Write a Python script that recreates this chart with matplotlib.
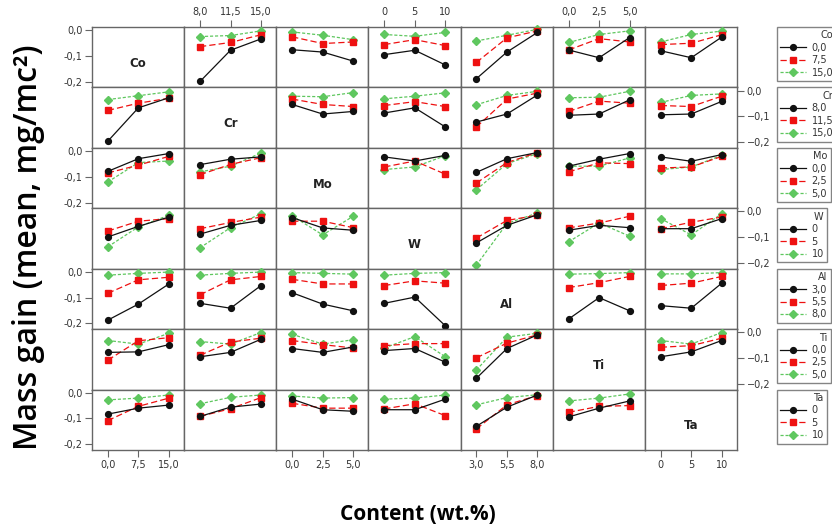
#!/usr/bin/env python3

#imports
import matplotlib
matplotlib.use("Agg")
import matplotlib.pyplot as plt
import numpy as np


#constants
factors = ["Co", "Cr", "Mo", "W", "Al", "Ti", "Ta"]
level_labels = [
    ["0,0", "7,5", "15,0"],
    ["8,0", "11,5", "15,0"],
    ["0,0", "2,5", "5,0"],
    ["0", "5", "10"],
    ["3,0", "5,5", "8,0"],
    ["0,0", "2,5", "5,0"],
    ["0", "5", "10"],
]
y_ticks = [0.0, -0.1, -0.2]

# mean mass gain per panel: one entry per column factor (None on the diagonal),
# each entry holds the three series (low / mid / high level of the row factor)
co_means = [
    None,
    [[-0.199, -0.078, -0.034], [-0.064, -0.048, -0.018], [-0.025, -0.021, -0.003]],
    [[-0.076, -0.085, -0.120], [-0.026, -0.052, -0.046], [-0.007, -0.020, -0.037]],
    [[-0.095, -0.078, -0.135], [-0.056, -0.037, -0.060], [-0.017, -0.024, -0.009]],
    [[-0.188, -0.085, -0.009], [-0.125, -0.030, -0.003], [-0.042, -0.020, 0.003]],
    [[-0.077, -0.107, -0.029], [-0.077, -0.033, -0.046], [-0.048, -0.017, -0.003]],
    [[-0.080, -0.107, -0.027], [-0.056, -0.051, -0.018], [-0.046, -0.017, -0.004]],
]
cr_means = [
    [[-0.196, -0.067, -0.028], [-0.077, -0.049, -0.030], [-0.035, -0.020, -0.005]],
    None,
    [[-0.054, -0.091, -0.081], [-0.033, -0.054, -0.062], [-0.022, -0.024, -0.008]],
    [[-0.087, -0.067, -0.141], [-0.058, -0.043, -0.062], [-0.032, -0.022, -0.009]],
    [[-0.122, -0.091, -0.017], [-0.141, -0.033, -0.010], [-0.055, -0.019, -0.003]],
    [[-0.096, -0.091, -0.036], [-0.081, -0.041, -0.049], [-0.028, -0.026, -0.003]],
    [[-0.094, -0.091, -0.042], [-0.058, -0.062, -0.022], [-0.046, -0.019, -0.013]],
]
mo_means = [
    [[-0.079, -0.030, -0.010], [-0.085, -0.055, -0.021], [-0.120, -0.045, -0.039]],
    [[-0.053, -0.032, -0.023], [-0.092, -0.052, -0.026], [-0.081, -0.059, -0.008]],
    None,
    [[-0.023, -0.039, -0.017], [-0.062, -0.039, -0.090], [-0.072, -0.062, -0.018]],
    [[-0.083, -0.030, -0.006], [-0.124, -0.045, -0.006], [-0.150, -0.049, -0.010]],
    [[-0.059, -0.032, -0.010], [-0.081, -0.046, -0.049], [-0.059, -0.059, -0.027]],
    [[-0.023, -0.040, -0.014], [-0.066, -0.062, -0.021], [-0.072, -0.062, -0.017]],
]
w_means = [
    [[-0.099, -0.058, -0.022], [-0.076, -0.038, -0.028], [-0.137, -0.060, -0.015]],
    [[-0.088, -0.054, -0.035], [-0.067, -0.043, -0.022], [-0.141, -0.063, -0.009]],
    [[-0.024, -0.064, -0.073], [-0.038, -0.038, -0.063], [-0.017, -0.091, -0.019]],
    None,
    [[-0.122, -0.054, -0.013], [-0.103, -0.035, -0.015], [-0.208, -0.047, -0.006]],
    [[-0.073, -0.054, -0.063], [-0.064, -0.045, -0.019], [-0.118, -0.045, -0.096]],
    [[-0.067, -0.067, -0.028], [-0.067, -0.042, -0.022], [-0.028, -0.091, -0.009]],
]
al_means = [
    [[-0.187, -0.125, -0.047], [-0.083, -0.031, -0.021], [-0.013, -0.006, -0.001]],
    [[-0.122, -0.141, -0.053], [-0.089, -0.031, -0.018], [-0.013, -0.006, -0.001]],
    [[-0.081, -0.125, -0.151], [-0.029, -0.047, -0.047], [-0.003, -0.006, -0.009]],
    [[-0.122, -0.098, -0.209], [-0.053, -0.035, -0.044], [-0.013, -0.006, -0.003]],
    None,
    [[-0.183, -0.100, -0.151], [-0.061, -0.042, -0.018], [-0.009, -0.007, -0.003]],
    [[-0.131, -0.141, -0.044], [-0.053, -0.044, -0.018], [-0.008, -0.008, -0.003]],
]
ti_means = [
    [[-0.078, -0.076, -0.048], [-0.108, -0.033, -0.021], [-0.032, -0.046, -0.004]],
    [[-0.095, -0.078, -0.027], [-0.089, -0.038, -0.023], [-0.036, -0.046, -0.001]],
    [[-0.063, -0.078, -0.057], [-0.032, -0.048, -0.061], [-0.008, -0.046, -0.029]],
    [[-0.071, -0.063, -0.116], [-0.052, -0.044, -0.044], [-0.061, -0.017, -0.095]],
    [[-0.178, -0.063, -0.010], [-0.099, -0.042, -0.010], [-0.146, -0.019, -0.004]],
    None,
    [[-0.095, -0.076, -0.032], [-0.058, -0.052, -0.023], [-0.032, -0.046, -0.001]],
]
ta_means = [
    [[-0.083, -0.060, -0.048], [-0.108, -0.053, -0.021], [-0.028, -0.021, -0.009]],
    [[-0.092, -0.056, -0.044], [-0.092, -0.062, -0.019], [-0.043, -0.018, -0.009]],
    [[-0.025, -0.066, -0.072], [-0.041, -0.060, -0.060], [-0.013, -0.021, -0.019]],
    [[-0.066, -0.066, -0.025], [-0.063, -0.043, -0.089], [-0.025, -0.021, -0.009]],
    [[-0.130, -0.056, -0.009], [-0.140, -0.047, -0.011], [-0.047, -0.019, -0.008]],
    [[-0.094, -0.060, -0.032], [-0.076, -0.053, -0.050], [-0.032, -0.021, -0.005]],
    None,
]
all_means = [co_means, cr_means, mo_means, w_means, al_means, ti_means, ta_means]

series_styles = [
    dict(color="#111111", linestyle="-", marker="o", markersize=4.2, linewidth=0.9),
    dict(color="#ee1111", linestyle=(0, (5, 2.5)), marker="s", markersize=4.3, linewidth=0.9),
    dict(color="#5fc75f", linestyle=(0, (2.5, 1.5)), marker="D", markersize=4, linewidth=0.9),
]
frame_color = "#666666"
tick_color = "#333333"


#functions
def style_panel(ax, row, col, n):
    ax.set_xlim(-0.52, 2.5)
    ax.set_ylim(-0.222, 0.012)
    for s in ax.spines.values():
        s.set_color(frame_color)
        s.set_linewidth(1.0)
    ax.tick_params(which="both", length=0, labelleft=False, labelbottom=False,
                   labeltop=False, labelright=False)

    xt = dict(length=5, width=0.8, color=frame_color, labelsize=7, labelcolor=tick_color, pad=2)
    if row == 0 and col % 2 == 1:
        ax.set_xticks(range(3))
        ax.set_xticklabels(level_labels[col])
        ax.tick_params(axis="x", top=True, bottom=False, labeltop=True, **xt)
    elif row == n - 1 and col % 2 == 0:
        ax.set_xticks(range(3))
        ax.set_xticklabels(level_labels[col])
        ax.tick_params(axis="x", bottom=True, top=False, labelbottom=True, **xt)
    else:
        ax.set_xticks([])

    if col == 0 and row % 2 == 0:
        ax.set_yticks(y_ticks)
        ax.set_yticklabels(["0,0", "-0,1", "-0,2"])
        ax.tick_params(axis="y", left=True, labelleft=True, **xt)
    elif col == n - 1 and row % 2 == 1:
        ax.set_yticks(y_ticks)
        ax.set_yticklabels(["0,0", "\u22120,1", "\u22120,2"])
        ax.tick_params(axis="y", right=True, left=False, labelright=True, **xt)
    else:
        ax.set_yticks([])


def draw_matrix(fig):
    n = len(factors)
    axes = fig.subplots(n, n, gridspec_kw=dict(hspace=0, wspace=0))
    fig.subplots_adjust(left=92 / 832, right=737 / 832, top=1 - 27 / 530, bottom=1 - 450 / 530)
    x = np.arange(3)
    for r in range(n):
        handles = []
        for c in range(n):
            ax = axes[r, c]
            style_panel(ax, r, c, n)
            panel = all_means[r][c]
            if panel is None:
                ax.text(0.5, 0.4, factors[r], transform=ax.transAxes, ha="center",
                        va="center", fontsize=8.5, fontweight="bold", color="#222222")
                continue
            # draw high level first so the black line sits on top
            for k in (2, 1, 0):
                ax.plot(x, panel[k], **series_styles[k], clip_on=False, zorder=3 + (2 - k))
        for k in range(3):
            h, = axes[r, 0].plot([], [], **series_styles[k])
            handles.append(h)
        row_top = 27 + r * (450 - 27) / n
        leg = fig.legend(handles, level_labels[r], title=factors[r], loc="upper left",
                         bbox_to_anchor=(777 / 832, 1 - row_top / 530),
                         bbox_transform=fig.transFigure, fontsize=7, title_fontsize=7,
                         alignment="right", frameon=True, fancybox=False,
                         edgecolor=frame_color, handlelength=2.6, labelspacing=0.25,
                         borderpad=0.35, handletextpad=0.6, borderaxespad=0)
        leg.get_frame().set_linewidth(1.0)
        for t in leg.get_texts():
            t.set_color(tick_color)
        leg.get_title().set_color(tick_color)
    return axes

#functions-end


#main
def main():
    fig = plt.figure(figsize=(8.32, 5.30), dpi=100)
    draw_matrix(fig)
    fig.text(29 / 832, 1 - 247 / 530, "Mass gain (mean, mg/mc\u00b2)", rotation=90,
             ha="center", va="center", fontsize=23, fontweight="semibold",
             family=["Open Sans", "DejaVu Sans"])
    fig.text(418 / 832, 1 - 515 / 530, "Content (wt.%)", ha="center", va="center",
             fontsize=15, fontweight="bold", family=["Open Sans", "DejaVu Sans"])
    fig.savefig("out.png", dpi=100)

#main call
if __name__ == "__main__":
    main()
